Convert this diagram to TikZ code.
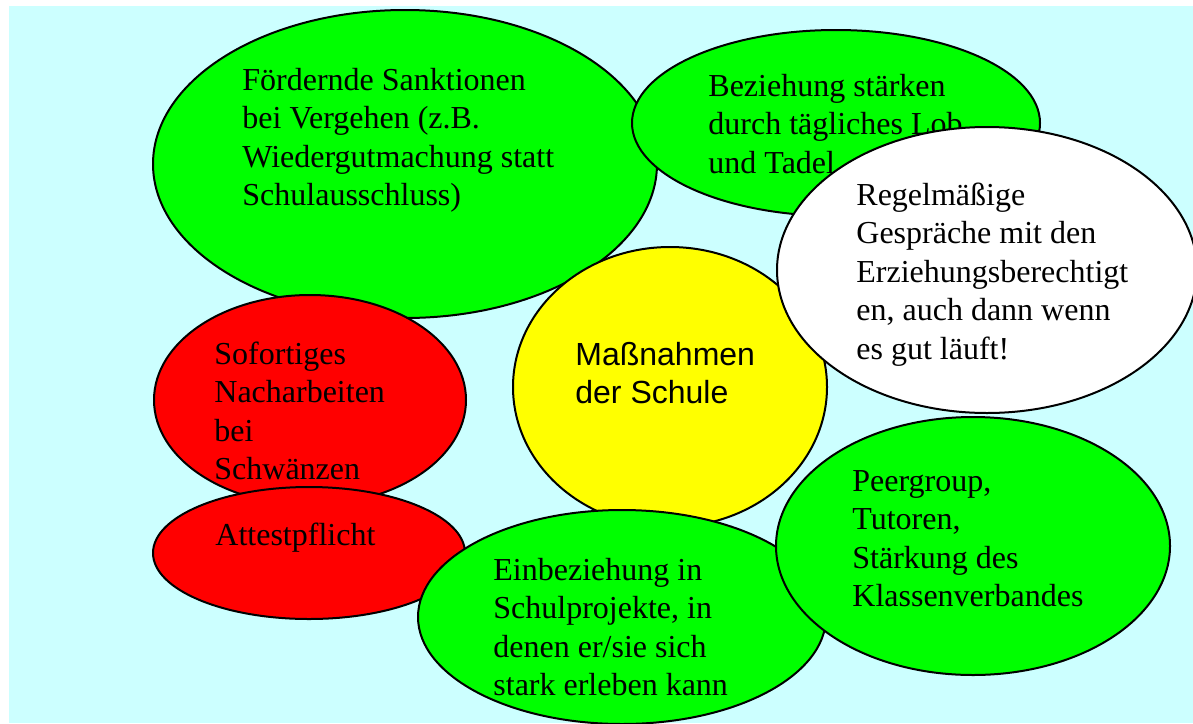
\documentclass[tikz,border=0pt]{standalone}
\usepackage{fontspec}
\setmainfont{Liberation Serif}
\setsansfont{Liberation Sans}
\definecolor{bgcyan}{HTML}{CCFFFF}
\definecolor{bgreen}{HTML}{00FF00}
\definecolor{bred}{HTML}{FF0000}
\definecolor{byellow}{HTML}{FFFF00}
\newcommand{\bubble}[5]{\filldraw[fill=#5, draw=black, line width=1pt] ( #1 , #2 ) ellipse ( #3 and #4 );}
\tikzset{bubbletext/.style={anchor=base west, align=left, inner sep=0pt, font=\fontsize{16}{19.25}\selectfont}}

\begin{document}
\begin{tikzpicture}[x=0.5pt, y=-0.5pt]
    \useasboundingbox (0,0) rectangle (1193,723);
    \fill[bgcyan] (9,6) rectangle (1193,723);
    \begin{scope}
        \clip (0,0) rectangle (1193,723);
        % top left
        \bubble{405}{164}{252}{154}{bgreen}
        \node[bubbletext] (sanktionen) at (242,205.5) {Fördernde Sanktionen\\bei Vergehen (z.B.\\Wiedergutmachung statt\\Schulausschluss)};
        % top right
        \bubble{836}{123}{204}{93}{bgreen}
        \node[bubbletext] (beziehung) at (708,173) {Beziehung stärken\\durch tägliches Lob\\und Tadel};
        % centre
        \bubble{670}{387}{157}{140}{byellow}
        \node[bubbletext, font=\sffamily\fontsize{16}{19.25}\selectfont] (schule) at (575,403.5) {Maßnahmen\\der Schule};
        % right
        \bubble{987}{270}{210}{143}{white}
        \node[bubbletext] (gespraeche) at (856,359) {Regelmäßige\\Gespräche mit den\\Erziehungsberechtigt\\en, auch dann wenn\\es gut läuft!};
        % left
        \bubble{310}{400}{156}{105}{bred}
        \node[bubbletext] (nacharbeiten) at (214,479.5) {Sofortiges\\Nacharbeiten\\bei\\Schwänzen};
        \bubble{309}{553}{156}{66}{bred}
        \node[bubbletext] (attest) at (215,545) {Attestpflicht};
        % bottom
        \bubble{622}{617}{204}{107}{bgreen}
        \node[bubbletext] (projekte) at (493,695.5) {Einbeziehung in\\Schulprojekte, in\\denen er/sie sich\\stark erleben kann};
        \bubble{973}{546}{197}{129}{bgreen}
        \node[bubbletext] (peergroup) at (852,606.5) {Peergroup,\\Tutoren,\\Stärkung des\\Klassenverbandes};
    \end{scope}
\end{tikzpicture}
\end{document}
